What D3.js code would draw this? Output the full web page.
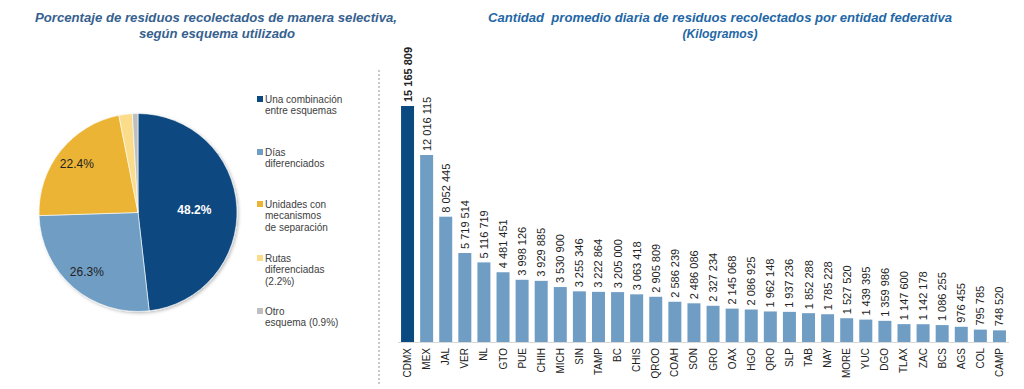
<!DOCTYPE html>
<html>
<head>
<meta charset="utf-8">
<script src="https://cdn.jsdelivr.net/npm/d3@7"></script>
<style>
  body { margin: 0; background: #fff; }
  svg { font-family: "Liberation Sans", Arial, sans-serif; }
</style>
</head>
<body>
<script>
// pie data
const schemes = ["Una combinación entre esquemas", "Días diferenciados", "Unidades con mecanismos de separación", "Rutas diferenciadas (2.2%)", "Otro esquema (0.9%)"];
const schemePct = [48.2, 26.3, 22.4, 2.2, 0.9];
const schemeColors = ["#0b4a80", "#6f9dc4", "#ecb435", "#fbdc8a", "#bfbfbf"];
const legendLines = [
  ["Una combinación", "entre esquemas"],
  ["Días", "diferenciados"],
  ["Unidades con", "mecanismos", "de separación"],
  ["Rutas", "diferenciadas", "(2.2%)"],
  ["Otro", "esquema (0.9%)"]
];

// bar data
const states = ["CDMX","MEX","JAL","VER","NL","GTO","PUE","CHIH","MICH","SIN","TAMP","BC","CHIS","QROO","COAH","SON","GRO","OAX","HGO","QRO","SLP","TAB","NAY","MORE","YUC","DGO","TLAX","ZAC","BCS","AGS","COL","CAMP"];
const kilos = [15165809,12016115,8052445,5719514,5116719,4481451,3998126,3929885,3530900,3255346,3222864,3205000,3063418,2905809,2586239,2486086,2327234,2145068,2086925,1962148,1937236,1852288,1785228,1527520,1439395,1359986,1147600,1142178,1086255,976455,795785,748520];

const W = 1024, H = 389;
const svg = d3.select("body").append("svg")
  .attr("width", W)
  .attr("height", H);

const defs = svg.append("defs");
defs.append("filter").attr("id", "shadow")
  .attr("x", "-10%").attr("y", "-10%").attr("width", "120%").attr("height", "120%")
  .append("feDropShadow")
  .attr("dx", 1.5).attr("dy", 1.5).attr("stdDeviation", 1.5)
  .attr("flood-color", "#000").attr("flood-opacity", 0.25);

// ---- titles
const titleL = svg.append("text")
  .attr("fill", "#36618f")
  .attr("font-weight", "bold").attr("font-style", "italic")
  .attr("font-size", 13).attr("text-anchor", "middle");
titleL.append("tspan").attr("x", 216).attr("y", 22)
  .attr("textLength", 362).attr("lengthAdjust", "spacingAndGlyphs")
  .text("Porcentaje de residuos recolectados de manera selectiva,");
titleL.append("tspan").attr("x", 217).attr("y", 38)
  .attr("textLength", 156).attr("lengthAdjust", "spacingAndGlyphs")
  .text("según esquema utilizado");

const titleR = svg.append("text")
  .attr("fill", "#1f67a6")
  .attr("font-weight", "bold").attr("font-style", "italic")
  .attr("font-size", 13).attr("text-anchor", "middle")
  .style("white-space", "pre");
titleR.append("tspan").attr("x", 720).attr("y", 22)
  .attr("textLength", 464).attr("lengthAdjust", "spacingAndGlyphs")
  .text("Cantidad  promedio diaria de residuos recolectados por entidad federativa");
titleR.append("tspan").attr("x", 720).attr("y", 38)
  .attr("textLength", 75).attr("lengthAdjust", "spacingAndGlyphs")
  .text("(Kilogramos)");

// ---- pie
const cx = 138, cy = 212.5, R = 99;
const pie = d3.pie().sort(null).value(d => d);
const arcs = pie(schemePct);
const arc = d3.arc().innerRadius(0).outerRadius(R);
const g = svg.append("g").attr("transform", `translate(${cx},${cy})`);
g.append("g").attr("filter", "url(#shadow)")
  .selectAll("path").data(arcs).join("path")
  .attr("d", arc)
  .attr("fill", (d, i) => schemeColors[i])
  .attr("stroke", "#fff").attr("stroke-width", 0.6);

const labelR = [0.57, 0.79, 0.79];
g.selectAll("text.pl").data(arcs.slice(0, 3)).join("text")
  .attr("class", "pl")
  .attr("transform", (d, i) => {
    const a = d3.arc().innerRadius(R * labelR[i]).outerRadius(R * labelR[i]);
    return `translate(${a.centroid(d)})`;
  })
  .attr("text-anchor", "middle").attr("dy", "0.35em")
  .attr("font-size", 12)
  .attr("font-weight", (d, i) => i == 0 ? "bold" : "normal")
  .attr("fill", (d, i) => i == 0 ? "#fff" : "#222")
  .text(d => d.data.toFixed(1) + "%");

// ---- legend
const legendY = [99, 152, 204, 258, 311];
const lg = svg.append("g");
legendLines.forEach((lines, i) => {
  lg.append("rect")
    .attr("x", 257).attr("y", legendY[i] - 3).attr("width", 6).attr("height", 6)
    .attr("fill", schemeColors[i]);
  const t = lg.append("text").attr("font-size", 10).attr("fill", "#404040");
  lines.forEach((ln, j) => {
    t.append("tspan").attr("x", 265).attr("y", legendY[i] + 3.5 + j * 11.7).text(ln);
  });
});

// separator
svg.append("line")
  .attr("x1", 379).attr("x2", 379).attr("y1", 70).attr("y2", 386)
  .attr("stroke", "#a6a6a6").attr("stroke-width", 1.2)
  .attr("stroke-dasharray", "2,2");

// ---- bars
const base = 342;
const x = d3.scaleBand().domain(states).range([398, 1009]).paddingInner(0.32).paddingOuter(0.16);
const y = d3.scaleLinear().domain([0, 15165809]).range([base, 106]);
const fmt = v => d3.format(",")(v).replace(/,/g, " ");

svg.append("g").selectAll("rect").data(states).join("rect")
  .attr("x", d => x(d))
  .attr("y", (d, i) => y(kilos[i]))
  .attr("width", x.bandwidth())
  .attr("height", (d, i) => base - y(kilos[i]))
  .attr("fill", (d, i) => i == 0 ? "#0b4a80" : "#6f9dc4");

svg.append("line")
  .attr("x1", 398).attr("x2", 1009).attr("y1", base + 0.5).attr("y2", base + 0.5)
  .attr("stroke", "#d9d9d9");

svg.append("g").selectAll("text").data(states).join("text")
  .attr("transform", (d, i) => `translate(${x(d) + x.bandwidth() / 2 + 4},${y(kilos[i]) - 4}) rotate(-90)`)
  .attr("font-size", 11)
  .attr("font-weight", (d, i) => i == 0 ? "bold" : "normal")
  .attr("fill", "#222")
  .text((d, i) => fmt(kilos[i]));

svg.append("g").selectAll("text").data(states).join("text")
  .attr("transform", d => `translate(${x(d) + x.bandwidth() / 2 + 3.5},${base + 6}) rotate(-90)`)
  .attr("text-anchor", "end")
  .attr("font-size", 10)
  .attr("fill", "#222")
  .text(d => d);
</script>
</body>
</html>
